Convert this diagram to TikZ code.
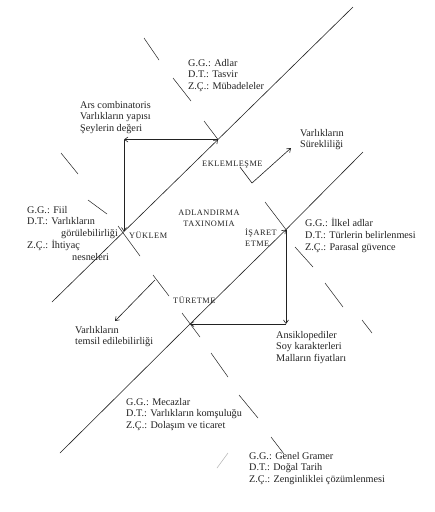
\documentclass[tikz,border=0pt]{standalone}
\usepackage{fontspec}
\setmainfont{Liberation Serif}
\newfontfamily\capsfont[LetterSpace=6]{Liberation Serif}
\usetikzlibrary{arrows.meta,positioning,calc}
\definecolor{ink}{HTML}{222222}

\tikzset{
  axisline/.style={draw=ink, line width=0.6pt},
  tickmark/.style={draw=ink, line width=0.5pt},
  arr/.style={draw=ink, line width=0.6pt, -{Straight Barb[length=3.5pt,width=5pt]}},
  info/.style={anchor=north west, inner sep=0pt, align=left, text=ink,
               font=\fontsize{10.2}{11.7}\selectfont},
  caps/.style={inner sep=0pt, text=ink, font=\capsfont\fontsize{8.3}{11}\selectfont},
}

\begin{document}
\begin{tikzpicture}[x=1pt,y=-1pt]
  \useasboundingbox[fill=white] (0,0) rectangle (435,512);

  %% the two long diagonals
  \coordinate (L1a) at (52,302);
  \coordinate (L1b) at (353,7);
  \coordinate (Jyuk) at (124,231.5);
  \coordinate (Jekl) at (218,139.5);
  \coordinate (L2a) at (60,453);
  \coordinate (L2b) at (363,152);
  \coordinate (Jtur) at (190,324);
  \coordinate (Jisa) at (286,229.6);
  \coordinate (Cup) at (124,139.5);
  \coordinate (Cdown) at (286,324);

  \draw[axisline] (L1a) -- (Jyuk);
  \draw[arr] (Jyuk) -- (Jekl);
  \draw[axisline] (Jekl) -- (L1b);
  \draw[axisline] (L2a) -- (Jtur);
  \draw[arr] (Jtur) -- (Jisa);
  \draw[axisline] (Jisa) -- (L2b);

  %% the two cycles
  \draw[arr] (Jekl) -- (Cup);
  \draw[arr] (Cup) -- (Jyuk);
  \draw[arr] (Jisa) -- (Cdown);
  \draw[arr] (Cdown) -- (Jtur);

  %% short cross marks
  \foreach \xa/\ya/\xb/\yb in {144/38/159/60, 173/78/191/101, 204/121/218/139.5,
      61/153/78/174, 88/200/107/214, 118/226/140/256, 153/275/169/296,
      182/313/200/337, 211/353/228/377, 239/395/258/418, 271/437/284/454,
      265/202/286/229.6, 295/247/313/267, 325/283/343/307, 362/320/372/333}{
    \draw[tickmark] (\xa,\ya) -- (\xb,\yb);
  }
  \draw[ink!35, line width=0.5pt] (217,468) -- (228,453);

  %% side arrows
  \coordinate (Va) at (240,167);
  \coordinate (Vb) at (252,183);
  \coordinate (Vc) at (291,148);
  \draw[arr] (Va) -- (Vb) -- (Vc);
  \coordinate (Ta) at (155,280);
  \coordinate (Tb) at (115,321);
  \draw[arr] (Ta) -- (Tb);

  %% labels on the diagonals
  \node[caps, anchor=west] (ekl) at (202,165) {EKLEMLEŞME};
  \node[caps, anchor=west] (yuk) at (129,235) {YÜKLEM};
  \node[caps, align=center, anchor=north] (adl) at (209,210) {ADLANDIRMA\\TAXINOMIA};
  \node[caps, align=left, anchor=north west] (isa) at (245,228) {İŞARET\\ETME};
  \node[caps, anchor=west] (tur) at (173,300) {TÜRETME};

  %% text blocks
  \node[info] (adlar) at (188,59) {G.G.: Adlar\\D.T.: Tasvir\\Z.Ç.: Mübadeleler};
  \node[info] (ars) at (80,101) {Ars combinatoris\\Varlıkların yapısı\\Şeylerin değeri};
  \node[info] (surek) at (300,129) {Varlıkların\\Sürekliliği};
  \node[info] (fiil) at (27,206) {G.G.: Fiil\\D.T.: Varlıkların\\
    \hspace*{34pt}görülebilirliği\\Z.Ç.: İhtiyaç\\\hspace*{45pt}nesneleri};
  \node[info] (ilkel) at (305,218) {G.G.: İlkel adlar\\D.T.: Türlerin belirlenmesi\\Z.Ç.: Parasal güvence};
  \node[info] (temsil) at (75,326) {Varlıkların\\temsil edilebilirliği};
  \node[info] (ansik) at (276,331) {Ansiklopediler\\Soy karakterleri\\Malların fiyatları};
  \node[info] (mecaz) at (126,398) {G.G.: Mecazlar\\D.T.: Varlıkların komşuluğu\\Z.Ç.: Dolaşım ve ticaret};
  \node[info] (genel) at (249,452) {G.G.: Genel Gramer\\D.T.: Doğal Tarih\\Z.Ç.: Zenginliklei çözümlenmesi};

\end{tikzpicture}
\end{document}
